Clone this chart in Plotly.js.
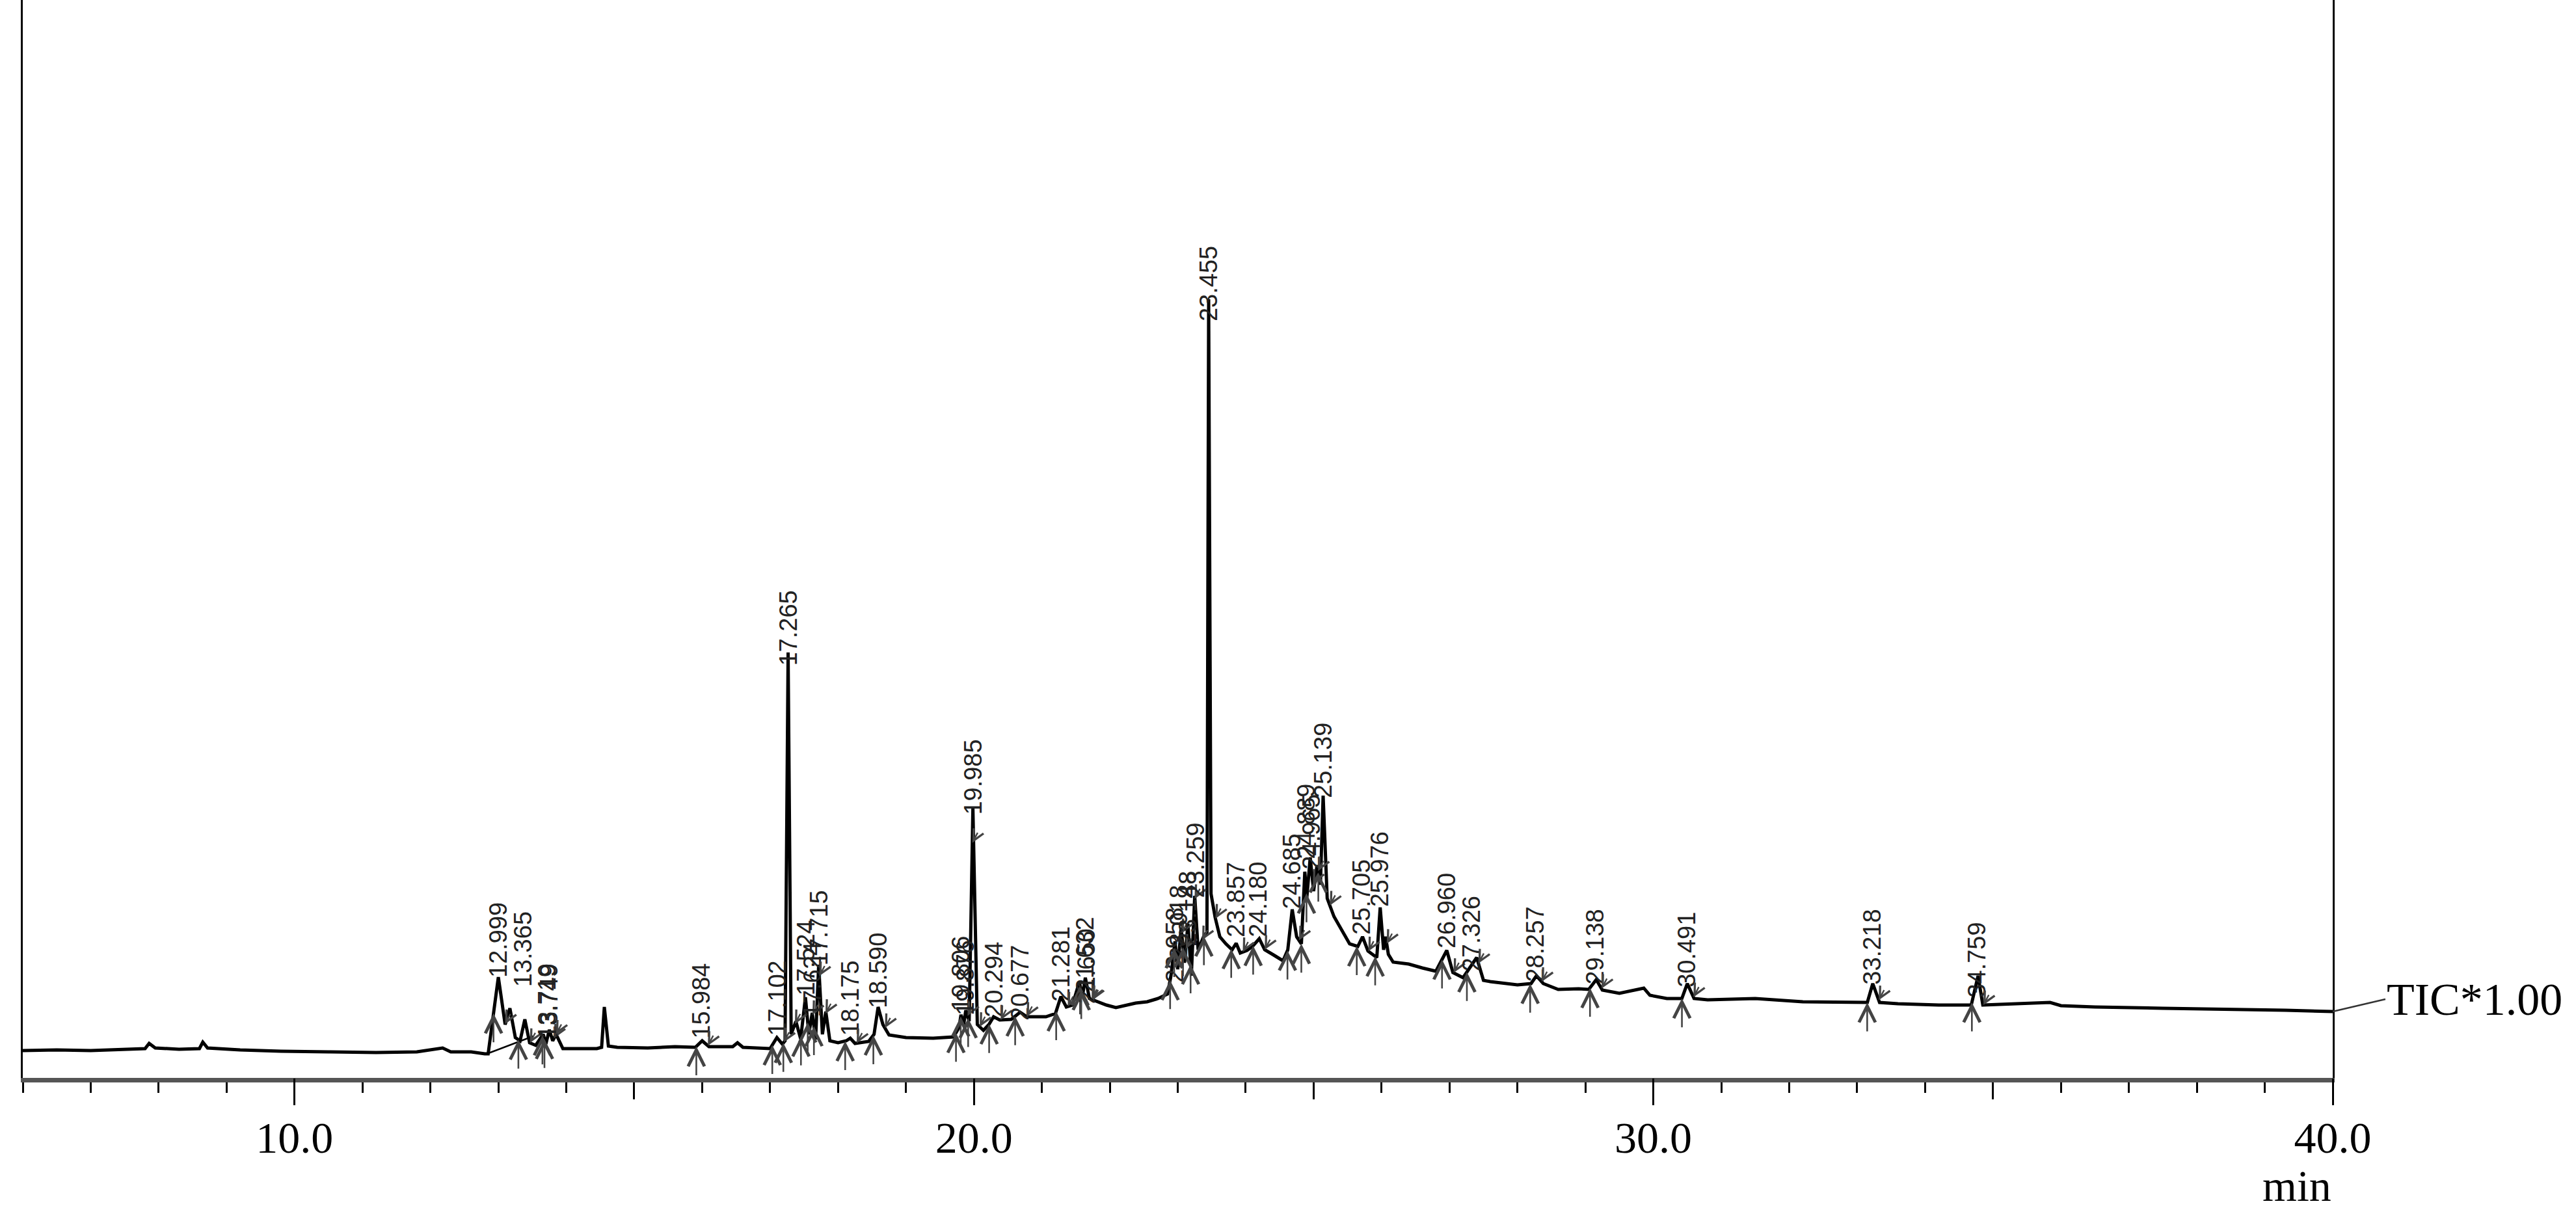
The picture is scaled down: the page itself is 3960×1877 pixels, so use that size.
<!DOCTYPE html>
<html><head><meta charset="utf-8">
<script src="https://cdn.plot.ly/plotly-3.0.1.min.js"></script>
<style>html,body{margin:0;padding:0;background:#fff;}#chart{width:3960px;height:1877px;}</style>
</head><body><div id="chart"></div>
<script>
// Retention time (min) and TIC intensity (arbitrary units)
const time = [6.0, 6.5, 7.0, 7.5, 7.8, 7.86, 7.95, 8.3, 8.6, 8.65, 8.72, 9.2, 9.8, 10.5, 11.2, 11.8, 12.18, 12.3, 12.6, 12.8, 12.85, 13.0, 13.1, 13.17, 13.25, 13.32, 13.39, 13.46, 13.55, 13.66, 13.70, 13.75, 13.80, 13.85, 13.95, 14.2, 14.45, 14.52, 14.56, 14.62, 14.75, 15.2, 15.6, 15.9, 16.0, 16.1, 16.45, 16.52, 16.6, 17.0, 17.10, 17.18, 17.22, 17.265, 17.31, 17.38, 17.45, 17.52, 17.57, 17.62, 17.67, 17.715, 17.77, 17.82, 17.88, 18.0, 18.12, 18.18, 18.25, 18.45, 18.53, 18.59, 18.66, 18.75, 19.0, 19.4, 19.7, 19.78, 19.81, 19.85, 19.88, 19.93, 19.985, 20.05, 20.14, 20.22, 20.29, 20.38, 20.55, 20.68, 20.78, 21.06, 21.2, 21.28, 21.36, 21.45, 21.55, 21.6, 21.64, 21.7, 21.79, 21.95, 22.09, 22.25, 22.38, 22.55, 22.71, 22.85, 22.9, 22.96, 23.0, 23.05, 23.1, 23.15, 23.2, 23.25, 23.3, 23.38, 23.43, 23.455, 23.49, 23.55, 23.62, 23.71, 23.8, 23.86, 23.92, 24.02, 24.1, 24.2, 24.28, 24.41, 24.55, 24.62, 24.685, 24.75, 24.82, 24.87, 24.9, 24.95, 25.0, 25.05, 25.1, 25.14, 25.2, 25.3, 25.42, 25.53, 25.65, 25.72, 25.8, 25.93, 25.98, 26.03, 26.06, 26.1, 26.17, 26.4, 26.6, 26.8, 26.96, 27.05, 27.2, 27.4, 27.5, 27.6, 28.0, 28.2, 28.28, 28.38, 28.6, 28.9, 29.05, 29.16, 29.25, 29.5, 29.86, 29.95, 30.2, 30.42, 30.5, 30.6, 30.8, 31.5, 32.2, 32.8, 33.15, 33.23, 33.33, 33.6, 34.2, 34.68, 34.78, 34.85, 35.2, 35.84, 36.0, 36.5, 37.5, 38.5, 39.3, 40.0];
const intensity = [42, 43, 42, 44, 45, 53, 46, 44, 45, 55, 46, 43, 41, 40, 39, 40, 46, 40, 40, 37, 37, 155, 82, 107, 62, 57, 90, 54, 50, 67, 52, 74, 57, 67, 45, 45, 45, 47, 109, 49, 47, 46, 48, 47, 57, 48, 48, 54, 47, 45, 62, 52, 57, 654, 67, 87, 60, 124, 67, 100, 59, 174, 67, 102, 57, 54, 57, 61, 53, 56, 67, 109, 82, 66, 62, 61, 63, 77, 97, 82, 104, 87, 415, 82, 73, 82, 94, 89, 90, 101, 94, 94, 99, 125, 109, 112, 147, 127, 154, 122, 118, 112, 108, 112, 115, 117, 122, 129, 157, 210, 167, 231, 177, 237, 157, 280, 197, 217, 224, 1197, 283, 247, 217, 206, 197, 207, 192, 196, 202, 214, 197, 189, 180, 197, 259, 217, 206, 317, 277, 339, 287, 327, 297, 434, 276, 248, 225, 206, 202, 217, 195, 185, 262, 197, 217, 190, 178, 175, 169, 164, 196, 162, 154, 185, 150, 148, 143, 145, 157, 145, 136, 137, 136, 151, 135, 130, 138, 127, 122, 122, 145, 122, 120, 122, 117, 117, 116, 145, 116, 114, 112, 112, 157, 112, 113, 116, 111, 109, 107, 106, 104, 102];

// Integration (skim) baseline under the 12.999 peak
const skimTime = [12.83, 13.51];
const skimLevel = [37, 64];

// Peak retention-time labels and the height where each label starts
const peakRT = [12.999, 13.365, 13.719, 13.749, 15.984, 17.102, 17.265, 17.524, 17.624, 17.715, 18.175, 18.590, 19.806, 19.876, 19.985, 20.294, 20.677, 21.281, 21.632, 21.650, 22.958, 23.018, 23.148, 23.259, 23.455, 23.857, 24.180, 24.685, 24.889, 24.965, 25.139, 25.705, 25.976, 26.960, 27.326, 28.257, 29.138, 30.491, 33.218, 34.759];
const peakTop = [158, 144, 64, 64, 64, 68, 637, 130, 97, 176, 68, 111, 106, 100, 408, 97, 92, 121, 135, 117, 150, 185, 206, 280, 1167, 220, 220, 264, 340, 324, 434, 224, 267, 203, 168, 151, 147, 143, 147, 127];

const labelTicks = [10, 15, 20, 25, 30, 35, 40];
const labelText = ['10.0', '', '20.0', '', '30.0', '', '40.0'];
const majorTicks = [10, 20, 30, 40];

function levelAt(t) {
  for (let i = 0; i < time.length - 1; i++) {
    if (t >= time[i] && t <= time[i + 1]) {
      const f = (t - time[i]) / (time[i + 1] - time[i]);
      return intensity[i] + f * (intensity[i + 1] - intensity[i]);
    }
  }
  return intensity[intensity.length - 1];
}

const annotations = [];
peakRT.forEach((rt, i) => {
  annotations.push({
    x: rt, y: peakTop[i], xref: 'x', yref: 'y', text: rt.toFixed(3),
    textangle: -90, showarrow: false, xanchor: 'center', yanchor: 'bottom', yshift: -6,
    font: {family: 'Liberation Sans, Arial, sans-serif', size: 38, color: '#222'}
  });
  const ts = rt - 0.07;
  annotations.push({
    x: ts, y: levelAt(ts), xref: 'x', yref: 'y', text: '', showarrow: true,
    ax: 0, ay: 46, arrowhead: 5, arrowsize: 1.9, arrowwidth: 2.6, arrowcolor: '#444', standoff: 0
  });
  const te = rt + 0.1;
  annotations.push({
    x: te, y: levelAt(te), xref: 'x', yref: 'y', text: '', showarrow: true,
    ax: 9, ay: -17, arrowhead: 5, arrowsize: 1.4, arrowwidth: 2.4, arrowcolor: '#444', standoff: 0
  });
});

annotations.push({
  x: 40, y: intensity[intensity.length - 1], xref: 'x', yref: 'y', text: 'TIC*1.00',
  showarrow: true, arrowhead: 0, arrowwidth: 2.5, arrowcolor: '#333', ax: 81, ay: -19,
  xanchor: 'left', yanchor: 'middle', standoff: 0,
  font: {family: 'Liberation Serif, Times New Roman, serif', size: 70, color: '#000'}
});
annotations.push({
  x: 1, y: -0.1, xref: 'paper', yref: 'paper', text: 'min', showarrow: false,
  xanchor: 'right', yanchor: 'middle',
  font: {family: 'Liberation Serif, Times New Roman, serif', size: 68, color: '#000'}
});

const traces = [
  {x: time, y: intensity, type: 'scatter', mode: 'lines', line: {color: '#000', width: 5}, hoverinfo: 'skip'},
  {x: skimTime, y: skimLevel, type: 'scatter', mode: 'lines', line: {color: '#000', width: 2.5}, hoverinfo: 'skip'},
  {x: [null], y: [null], xaxis: 'x2', type: 'scatter', mode: 'lines', hoverinfo: 'skip'}
];

const layout = {
  width: 3960, height: 1877,
  margin: {l: 35, r: 374, t: 0, b: 220},
  paper_bgcolor: '#fff', plot_bgcolor: '#fff',
  showlegend: false,
  xaxis: {
    range: [6, 40], tickvals: labelTicks, ticktext: labelText,
    ticks: 'outside', ticklen: 26, tickwidth: 3, tickcolor: '#000',
    showline: true, linewidth: 7, linecolor: '#555', mirror: false,
    showgrid: false, zeroline: false,
    tickfont: {family: 'Liberation Serif, Times New Roman, serif', size: 68, color: '#000'},
    minor: {dtick: 1, tick0: 0, ticks: 'outside', ticklen: 16, tickwidth: 3, tickcolor: '#000', showgrid: false}
  },
  xaxis2: {
    range: [6, 40], overlaying: 'x', anchor: 'y', side: 'bottom',
    tickvals: majorTicks, ticks: 'outside', ticklen: 41, tickwidth: 3, tickcolor: '#000',
    showticklabels: false, showline: false, showgrid: false, zeroline: false
  },
  yaxis: {
    range: [0, 1657], showticklabels: false, ticks: '', showgrid: false, zeroline: false,
    showline: true, mirror: true, linewidth: 3, linecolor: '#000'
  },
  annotations: annotations
};

Plotly.newPlot('chart', traces, layout, {staticPlot: true, displayModeBar: false});
</script></body></html>
